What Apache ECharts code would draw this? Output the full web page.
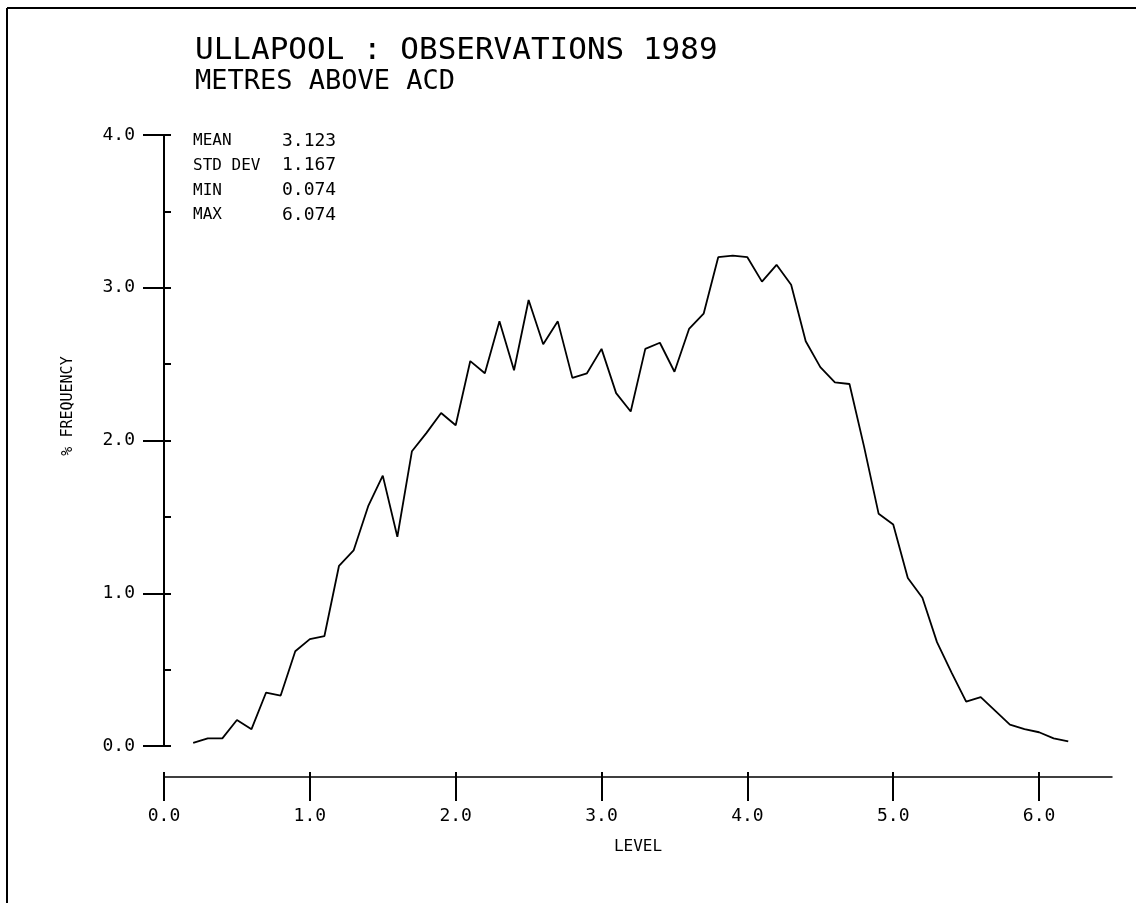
<!DOCTYPE html>
<html>
<head>
<meta charset="utf-8">
<script src="https://cdn.jsdelivr.net/npm/echarts@6/dist/echarts.min.js"></script>
<style>
html,body{margin:0;padding:0;background:#fff;}
#chart{width:1136px;height:903px;}
</style>
</head>
<body>
<div id="chart"></div>
<script>
var titleText = 'ULLAPOOL : OBSERVATIONS 1989';
var subtitleText = 'METRES ABOVE ACD';
var statNames = ['MEAN', 'STD DEV', 'MIN', 'MAX'];
var statValues = ['3.123', '1.167', '0.074', '6.074'];
var xTicks = [0, 1, 2, 3, 4, 5, 6];
var yTicks = [0, 1, 2, 3, 4];
var levels = [0.2,0.3,0.4,0.5,0.6,0.7,0.8,0.9,1.0,1.1,1.2,1.3,1.4,1.5,1.6,1.7,1.8,1.9,2.0,2.1,2.2,2.3,2.4,2.5,2.6,2.7,2.8,2.9,3.0,3.1,3.2,3.3,3.4,3.5,3.6,3.7,3.8,3.9,4.0,4.1,4.2,4.3,4.4,4.5,4.6,4.7,4.8,4.9,5.0,5.1,5.2,5.3,5.4,5.5,5.6,5.7,5.8,5.9,6.0,6.1,6.2];
var frequency = [0.02,0.05,0.05,0.17,0.11,0.35,0.33,0.62,0.70,0.72,1.18,1.28,1.57,1.77,1.37,1.93,2.05,2.18,2.10,2.52,2.44,2.78,2.46,2.92,2.63,2.78,2.41,2.44,2.60,2.31,2.19,2.60,2.64,2.45,2.73,2.83,3.20,3.21,3.20,3.04,3.15,3.02,2.65,2.48,2.38,2.37,1.96,1.52,1.45,1.10,0.97,0.68,0.48,0.29,0.32,0.23,0.14,0.11,0.09,0.05,0.03];

var FONT = 'DejaVu Sans Mono';
var seriesData = levels.map(function (x, i) { return [x, frequency[i]]; });

var statGraphics = [];
statNames.forEach(function (n, i) {
  statGraphics.push({ type: 'text', left: 193, top: 142 + i * 24.7 - 9,
    style: { text: n, font: '16px "' + FONT + '"', fill: '#000' } });
  statGraphics.push({ type: 'text', left: 282, top: 142 + i * 24.7 - 10,
    style: { text: statValues[i], font: '18px "' + FONT + '"', fill: '#000' } });
});

var chart = echarts.init(document.getElementById('chart'), null, { renderer: 'canvas' });
chart.setOption({
  backgroundColor: '#fff',
  animation: false,
  title: {
    text: titleText,
    subtext: subtitleText,
    left: 190, top: 30,
    itemGap: 2,
    textStyle: { fontFamily: FONT, fontSize: 31, fontWeight: 'normal', color: '#000' },
    subtextStyle: { fontFamily: FONT, fontSize: 27, color: '#000' }
  },
  grid: { left: 164, right: 24, top: 135, bottom: 157, containLabel: false },
  xAxis: [{
    type: 'value', min: 0, max: 6.5, interval: 1, offset: 31,
    splitLine: { show: false },
    axisLine: { onZero: false, lineStyle: { color: '#000', width: 1.5 } },
    axisTick: { customValues: xTicks, length: 24, lineStyle: { color: '#000', width: 2 } },
    axisLabel: { customValues: xTicks, margin: 30, fontFamily: FONT, fontSize: 18, color: '#000',
      formatter: function (v) { return v.toFixed(1); } },
    name: 'LEVEL', nameLocation: 'middle', nameGap: 62,
    nameTextStyle: { fontFamily: FONT, fontSize: 16, color: '#000' }
  }, {
    type: 'value', min: 0, max: 6.5, interval: 1, offset: 31, position: 'bottom',
    splitLine: { show: false },
    axisLine: { show: false, onZero: false },
    axisTick: { customValues: xTicks, inside: true, length: 5, lineStyle: { color: '#000', width: 2 } },
    axisLabel: { show: false }
  }],
  yAxis: [{
    type: 'value', min: 0, max: 4, interval: 1,
    splitLine: { show: false },
    axisLine: { show: true, onZero: false, lineStyle: { color: '#000', width: 2 } },
    axisTick: { show: true, length: 21, lineStyle: { color: '#000', width: 2 } },
    axisLabel: { margin: 29, fontFamily: FONT, fontSize: 18, color: '#000',
      formatter: function (v) { return v.toFixed(1); } }
  }, {
    type: 'value', min: 0, max: 4, interval: 0.5, position: 'left', offset: 0,
    splitLine: { show: false },
    axisLine: { show: false, onZero: false },
    axisTick: { show: true, inside: true, length: 7, lineStyle: { color: '#000', width: 2 } },
    axisLabel: { show: false }
  }],
  graphic: [
    { type: 'line', shape: { x1: 7, y1: 8, x2: 1136, y2: 8 }, style: { stroke: '#000', lineWidth: 2 } },
    { type: 'line', shape: { x1: 7, y1: 8, x2: 7, y2: 903 }, style: { stroke: '#000', lineWidth: 2 } },
    { type: 'text', x: 68, y: 406, rotation: Math.PI / 2,
      style: { text: '% FREQUENCY', font: '15px "' + FONT + '"', fill: '#000', align: 'center', verticalAlign: 'middle' } }
  ].concat(statGraphics),
  series: [{
    type: 'line', xAxisIndex: 0, yAxisIndex: 0,
    data: seriesData,
    showSymbol: false, symbol: 'none', smooth: false,
    lineStyle: { color: '#000', width: 1.8 }
  }]
});
</script>
</body>
</html>
